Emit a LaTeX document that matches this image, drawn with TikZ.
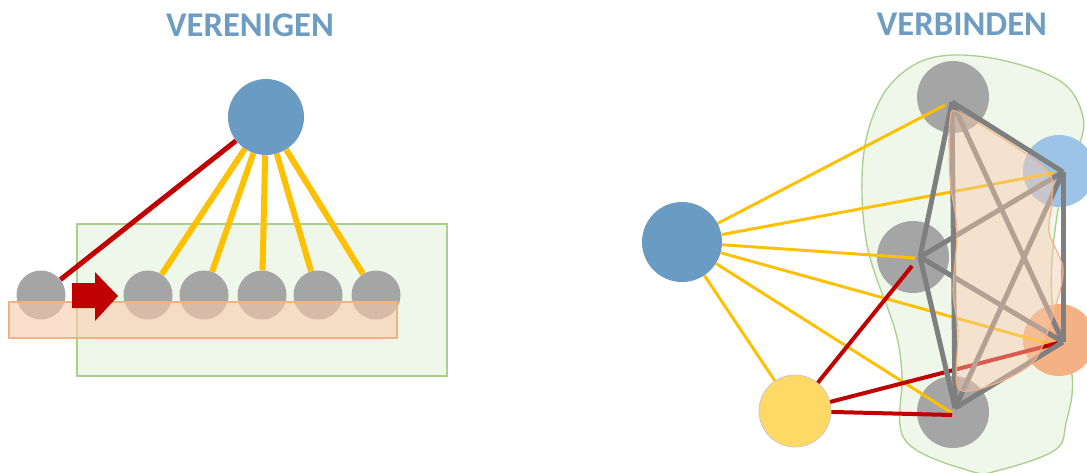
\documentclass[tikz,border=0pt]{standalone}
\usepackage{fontspec}
\setmainfont{Carlito}
\usetikzlibrary{backgrounds}
\begin{document}
\begin{tikzpicture}[x=0.75pt,y=-0.75pt]
\definecolor{ttl}{HTML}{6E9DC4}
\definecolor{bluec}{HTML}{6A9BC2}
\definecolor{grayc}{HTML}{A5A5A5}
\definecolor{ltblue}{HTML}{9DC3E6}
\definecolor{orangec}{HTML}{F4B183}
\definecolor{yellowc}{HTML}{FFD966}
\definecolor{gold}{HTML}{FFC000}
\definecolor{darkred}{HTML}{C00000}
\definecolor{greenfill}{HTML}{EFF6EA}
\definecolor{greenline}{HTML}{A9D18E}
\definecolor{orfill}{HTML}{F8CBAD}
\definecolor{edgegray}{HTML}{7F7F7F}
\tikzset{
  title/.style={font=\fontsize{26}{30}\selectfont\bfseries, text=ttl},
  dot/.style={circle, inner sep=0pt, minimum size=#1*0.75pt},
  graydot/.style={dot=49, fill=grayc},
  yline/.style={draw=gold, line width=4.5pt},
  rline/.style={draw=darkred, line width=3.75pt},
  ythin/.style={draw=gold, line width=2.2pt},
  rthin/.style={draw=darkred, line width=3pt},
  kedge/.style={draw=edgegray, line width=3.75pt, line join=round},
}
\useasboundingbox (0,0) rectangle (1087,472);
\clip (0,0) rectangle (1087,472);

% ---------------- VERENIGEN ----------------
\node[title] (t1) at (250,25) {VERENIGEN};
\node[dot=76, fill=bluec] (B) at (266,117) {};
\foreach \i/\x in {0/41,1/148,2/204,3/262,4/318,5/376}{
  \node[graydot] (c\i) at (\x,295) {};
}
\begin{pgfonlayer}{background}
\fill[white] (0,0) rectangle (1087,472);
\node[draw=greenline, line width=1.2pt, fill=greenfill, minimum width=370*0.75pt, minimum height=152*0.75pt, inner sep=0pt] (grect) at (262,300) {};
\draw[rline] (c0) -- (B);
\foreach \i in {1,...,5}{ \draw[yline] (B) -- (c\i); }
\end{pgfonlayer}
\node[draw=orangec, line width=1pt, fill=orfill, fill opacity=0.6, minimum width=388*0.75pt, minimum height=36*0.75pt, inner sep=0pt] (orect) at (203,320) {};
\fill[darkred] (72,283) -- (95,283) -- (95,272) -- (118,296) -- (95,321) -- (95,308) -- (72,308) -- cycle;

% ---------------- VERBINDEN ----------------
\node[title] (t2) at (962,24) {VERBINDEN};

\node[dot=72, fill=grayc] (n1) at (953,97) {};
\node[dot=72, fill=ltblue] (n2) at (1059,171) {};
\node[dot=72, fill=grayc] (n3) at (913,257) {};
\node[dot=72, fill=orangec] (n4) at (1059,340) {};
\node[dot=72, fill=grayc] (n5) at (953,412) {};
\node[dot=80, fill=bluec] (H) at (682,242) {};
\node[dot=72, fill=yellowc, draw=grayc!60, line width=0.6pt] (Y) at (795,411) {};

\begin{pgfonlayer}{background}
\draw[greenline, line width=1pt, fill=greenfill] plot[smooth cycle, tension=0.6] coordinates {
 (953,55) (1010,62) (1063,83) (1083,117) (1078,150) (1058,210) (1052,300) (1072,375) (1066,423) (1055,450) (1000,470) (970,471) (905,440) (902,375) (895,330) (867,245) (863,160) (880,100) (912,66)};
\end{pgfonlayer}

\coordinate (p1) at (952,102);
\coordinate (p2) at (1063,172);
\coordinate (p3) at (920,257);
\coordinate (p4) at (1063,342);
\coordinate (p5) at (955,408);
\coordinate (q1) at (945,105);
\coordinate (q2) at (1053,173);
\coordinate (q3) at (915,258);
\coordinate (q4) at (1053,345);
\coordinate (q5) at (952,413);
\coordinate (r3) at (912,266);
\coordinate (r4) at (1062,342);
\coordinate (r5) at (952,415);

\foreach \q in {q1,q2,q3,q4,q5}{ \draw[ythin] (H) -- (\q); }
\draw[ythin] (H) -- (Y);
\foreach \r in {r3,r4,r5}{ \draw[rthin] (Y) -- (\r); }

\foreach \a/\b in {p1/p2,p1/p3,p1/p4,p1/p5,p2/p3,p2/p4,p2/p5,p3/p4,p3/p5,p4/p5}{
  \draw[kedge] (\a) -- (\b);
}
\draw[orangec, line width=0.8pt, fill=orfill, fill opacity=0.45] plot[smooth cycle, tension=0.5] coordinates {
 (950,120) (962,114) (1045,168) (1052,200) (1049,232) (1063,268) (1056,305) (1035,360) (992,385) (958,388) (958,330) (953,290) (957,230) (950,180)};
\end{tikzpicture}
\end{document}
